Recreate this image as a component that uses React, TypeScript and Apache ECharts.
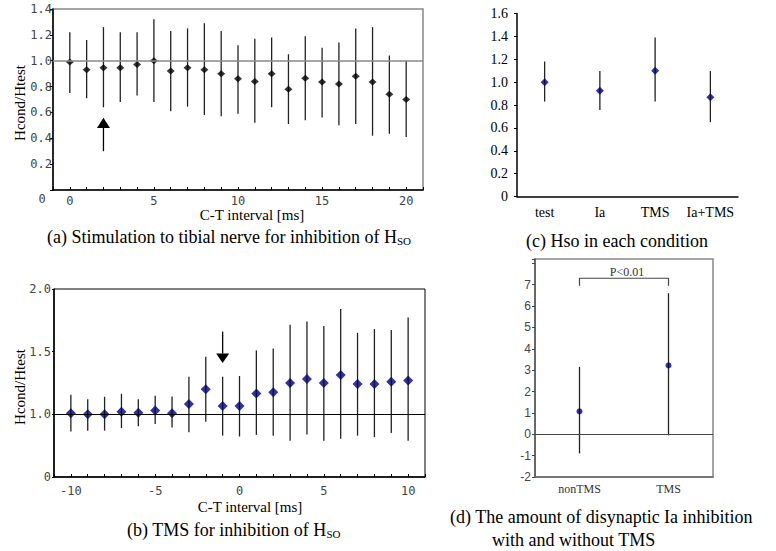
import React, { useEffect, useRef } from "react";
import * as echarts from "echarts";

// Panel (a): stimulation to tibial nerve
const intervalsA = [0, 1, 2, 3, 4, 5, 6, 7, 8, 9, 10, 11, 12, 13, 14, 15, 16, 17, 18, 19, 20];
const meanA = [0.99, 0.93, 0.945, 0.945, 0.97, 1.0, 0.92, 0.945, 0.93, 0.9, 0.86, 0.84, 0.9, 0.78, 0.865, 0.835, 0.82, 0.88, 0.835, 0.74, 0.7];
const hiA = [1.22, 1.16, 1.26, 1.22, 1.22, 1.32, 1.23, 1.25, 1.29, 1.23, 1.12, 1.17, 1.18, 1.05, 1.19, 1.1, 1.14, 1.25, 1.26, 1.04, 1.0];
const loA = [0.75, 0.71, 0.64, 0.68, 0.73, 0.68, 0.61, 0.645, 0.58, 0.57, 0.59, 0.52, 0.64, 0.51, 0.54, 0.56, 0.5, 0.51, 0.42, 0.435, 0.41];
const arrowA = [[2, 0.558, 0.48, 0.3]]; // x, tip, base, stem end

// Panel (b): TMS
const intervalsB = [-10, -9, -8, -7, -6, -5, -4, -3, -2, -1, 0, 1, 2, 3, 4, 5, 6, 7, 8, 9, 10];
const meanB = [1.008, 1.0, 1.0, 1.02, 1.013, 1.03, 1.008, 1.082, 1.2, 1.066, 1.066, 1.166, 1.177, 1.25, 1.282, 1.25, 1.314, 1.243, 1.243, 1.26, 1.27];
const hiB = [1.156, 1.12, 1.14, 1.164, 1.12, 1.148, 1.142, 1.3, 1.46, 1.3, 1.306, 1.51, 1.525, 1.715, 1.74, 1.705, 1.84, 1.65, 1.68, 1.673, 1.773];
const loB = [0.863, 0.87, 0.87, 0.89, 0.905, 0.923, 0.894, 0.857, 0.94, 0.83, 0.823, 0.836, 0.83, 0.79, 0.84, 0.79, 0.805, 0.83, 0.818, 0.852, 0.79];
const arrowB = [[-1, 1.41, 1.485, 1.66]];

// Panel (c): Hso in each condition
const condC = ["test", "Ia", "TMS", "Ia+TMS"];
const meanC = [1.0, 0.925, 1.1, 0.867];
const hiC = [1.18, 1.097, 1.39, 1.097];
const loC = [0.83, 0.757, 0.83, 0.65];

// Panel (d): disynaptic Ia inhibition
const condD = ["nonTMS", "TMS"];
const meanD = [1.07, 3.22];
const hiD = [3.15, 6.6];
const loD = [-0.9, -0.05];
const bracketD = [[0, 6.95], [0, 7.3], [1, 7.3], [1, 6.95]];

const SERIF = "'Times New Roman', 'Liberation Serif', serif";
const MONO = "'DejaVu Sans Mono', monospace";
const SANS = "'Liberation Sans', Arial, sans-serif";

const errRender = (color: string, width: number) => (params: any, api: any) => {
  const x = api.value(0);
  const a = api.coord([x, api.value(1)]);
  const b = api.coord([x, api.value(2)]);
  return {
    type: "line",
    shape: { x1: a[0], y1: a[1], x2: b[0], y2: b[1] },
    style: { stroke: color, lineWidth: width },
  };
};

const arrowRender = (params: any, api: any) => {
  const x = api.value(0);
  const tip = api.coord([x, api.value(1)]);
  const base = api.coord([x, api.value(2)]);
  const end = api.coord([x, api.value(3)]);
  return {
    type: "group",
    children: [
      { type: "line", shape: { x1: base[0], y1: base[1], x2: end[0], y2: end[1] }, style: { stroke: "#000", lineWidth: 1.3 } },
      {
        type: "polygon",
        shape: { points: [[tip[0], tip[1]], [base[0] - 6.5, base[1]], [base[0] + 6.5, base[1]]] },
        style: { fill: "#000" },
      },
    ],
  };
};

const txt = (x: number, y: number, text: string, size: number, family: string, extra: any = {}) => ({
  type: "text",
  x,
  y,
  ...(extra.rotation ? { rotation: extra.rotation } : {}),
  style: {
    text,
    fontSize: size,
    fontFamily: family,
    fill: extra.fill || "#000",
    align: extra.align || "left",
    verticalAlign: "middle",
    ...(extra.rich ? { rich: extra.rich } : {}),
  },
});

export default function App() {
  const ref = useRef<HTMLDivElement>(null);
  useEffect(() => {
    document.body.style.margin = "0";
    const chart = echarts.init(ref.current!, undefined, { renderer: "svg" });
    const monoLabel = { fontFamily: MONO, fontSize: 12, color: "#444" };
    const subRich = { s: { fontSize: 11, fontFamily: SERIF, verticalAlign: "bottom", color: "#000" } };
    const option: any = {
      animation: false,
      backgroundColor: "#fff",
      grid: [
        { left: 53, top: 9, width: 370, height: 181, show: true, borderColor: "#888", borderWidth: 1.5 },
        { left: 54, top: 289, width: 371, height: 188, show: true, borderColor: "#000", borderWidth: 1 },
        { left: 517, top: 13.5, width: 221, height: 183 },
        { left: 535, top: 259, width: 178, height: 218, show: true, borderColor: "#888", borderWidth: 1.5 },
      ],
      xAxis: [
        {
          gridIndex: 0, type: "value", min: -1, max: 21, interval: 1,
          axisLine: { onZero: false, lineStyle: { color: "#000", width: 1.5 } },
          axisTick: { inside: true, length: 3, lineStyle: { color: "#000" } },
          axisLabel: { ...monoLabel, margin: 5, formatter: (v: number) => (v >= 0 && v <= 20 && v % 5 === 0 ? String(v) : "") },
          splitLine: { show: false },
        },
        {
          gridIndex: 1, type: "value", min: -11, max: 11, interval: 1,
          axisLine: { onZero: false, lineStyle: { color: "#000", width: 1.5 } },
          axisTick: { inside: true, length: 3, lineStyle: { color: "#000" } },
          axisLabel: { ...monoLabel, margin: 8, formatter: (v: number) => (v >= -10 && v <= 10 && v % 5 === 0 ? String(v) : "") },
          splitLine: { show: false },
        },
        {
          gridIndex: 2, type: "category", data: condC, boundaryGap: true,
          axisLine: { onZero: false, lineStyle: { color: "#000", width: 1.5 } },
          axisTick: { inside: true, length: 4, alignWithLabel: true, lineStyle: { color: "#000" } },
          axisLabel: { interval: 0, fontFamily: SERIF, fontSize: 14, color: "#000", margin: 9 },
        },
        {
          gridIndex: 3, type: "category", data: condD, boundaryGap: true,
          axisLine: { onZero: false, lineStyle: { color: "#666", width: 1.5 } },
          axisTick: { inside: true, length: 3, alignWithLabel: true, lineStyle: { color: "#444" } },
          axisLabel: { interval: 0, fontFamily: SERIF, fontSize: 12, color: "#333", margin: 6 },
        },
      ],
      yAxis: [
        {
          gridIndex: 0, type: "value", min: 0, max: 1.4, interval: 0.2,
          axisLine: { show: true, onZero: false, lineStyle: { color: "#000", width: 1.5 } },
          axisTick: { show: true, length: 3, lineStyle: { color: "#000" } },
          axisLabel: { ...monoLabel, margin: 1, formatter: (v: number) => (v === 0 ? "" : v.toFixed(1)) },
          splitLine: { show: false },
        },
        {
          gridIndex: 1, type: "value", min: 0.5, max: 2.0, interval: 0.5,
          axisLine: { show: true, onZero: false, lineStyle: { color: "#000", width: 1.5 } },
          axisTick: { show: true, length: 2, lineStyle: { color: "#000" } },
          axisLabel: { ...monoLabel, margin: 3, formatter: (v: number) => (v === 0.5 ? "0" : v.toFixed(1)) },
          splitLine: { show: false },
        },
        {
          gridIndex: 2, type: "value", min: 0, max: 1.6, interval: 0.2,
          axisLine: { show: true, onZero: false, lineStyle: { color: "#000", width: 1.5 } },
          axisTick: { show: true, length: 3, lineStyle: { color: "#000" } },
          axisLabel: { fontFamily: SERIF, fontSize: 14, color: "#000", margin: 9, formatter: (v: number) => (v === 0 ? "0" : v.toFixed(1)) },
          splitLine: { show: false },
        },
        {
          gridIndex: 3, type: "value", min: -2, max: 8.2, interval: 1,
          axisLine: { show: true, onZero: false, lineStyle: { color: "#555", width: 1.5 } },
          axisTick: { show: true, length: 3, lineStyle: { color: "#444" } },
          axisLabel: { fontFamily: SANS, fontSize: 12, color: "#444", margin: 4, formatter: (v: number) => (v <= 7 && Number.isInteger(v) ? String(v) : "") },
          splitLine: { show: false },
        },
      ],
      series: [
        // (a)
        {
          type: "custom", xAxisIndex: 0, yAxisIndex: 0, renderItem: errRender("#222", 1.3),
          encode: { x: 0, y: [1, 2] }, data: intervalsA.map((x, i) => [x, loA[i], hiA[i]]), z: 2,
        },
        {
          type: "scatter", xAxisIndex: 0, yAxisIndex: 0, symbol: "diamond", symbolSize: [8, 7],
          itemStyle: { color: "#000" }, data: intervalsA.map((x, i) => [x, meanA[i]]), z: 3,
          markLine: { silent: true, symbol: "none", label: { show: false }, lineStyle: { color: "#888", width: 1.5, type: "solid" }, data: [{ yAxis: 1 }] },
        },
        { type: "custom", xAxisIndex: 0, yAxisIndex: 0, renderItem: arrowRender, encode: { x: 0, y: [1, 2, 3] }, data: arrowA, z: 3 },
        // (b)
        {
          type: "custom", xAxisIndex: 1, yAxisIndex: 1, renderItem: errRender("#222", 1.3),
          encode: { x: 0, y: [1, 2] }, data: intervalsB.map((x, i) => [x, loB[i], hiB[i]]), z: 2,
        },
        {
          type: "scatter", xAxisIndex: 1, yAxisIndex: 1, symbol: "diamond", symbolSize: [10, 10],
          itemStyle: { color: "#00007a" }, data: intervalsB.map((x, i) => [x, meanB[i]]), z: 3,
          markLine: { silent: true, symbol: "none", label: { show: false }, lineStyle: { color: "#000", width: 1.2, type: "solid" }, data: [{ yAxis: 1 }] },
        },
        { type: "custom", xAxisIndex: 1, yAxisIndex: 1, renderItem: arrowRender, encode: { x: 0, y: [1, 2, 3] }, data: arrowB, z: 3 },
        // (c)
        {
          type: "custom", xAxisIndex: 2, yAxisIndex: 2, renderItem: errRender("#222", 1.3),
          encode: { x: 0, y: [1, 2] }, data: condC.map((c, i) => [i, loC[i], hiC[i]]), z: 2,
        },
        {
          type: "scatter", xAxisIndex: 2, yAxisIndex: 2, symbol: "diamond", symbolSize: [8, 8],
          itemStyle: { color: "#00007a" }, data: condC.map((c, i) => [i, meanC[i]]), z: 3,
        },
        // (d)
        {
          type: "custom", xAxisIndex: 3, yAxisIndex: 3, renderItem: errRender("#222", 1.3),
          encode: { x: 0, y: [1, 2] }, data: condD.map((c, i) => [i, loD[i], hiD[i]]), z: 2,
        },
        {
          type: "scatter", xAxisIndex: 3, yAxisIndex: 3, symbol: "circle", symbolSize: 6,
          itemStyle: { color: "#00007a" }, data: condD.map((c, i) => [i, meanD[i]]), z: 3,
          markLine: { silent: true, symbol: "none", label: { show: false }, lineStyle: { color: "#444", width: 1.2, type: "solid" }, data: [{ yAxis: 0 }] },
        },
        {
          type: "line", xAxisIndex: 3, yAxisIndex: 3, data: bracketD, symbol: "none",
          lineStyle: { color: "#444", width: 1.2 }, z: 2,
        },
      ],
      graphic: [
        // axis names
        txt(20, 103, "Hcond/Htest", 15, SERIF, { align: "center", rotation: Math.PI / 2 }),
        txt(20, 387, "Hcond/Htest", 15, SERIF, { align: "center", rotation: Math.PI / 2 }),
        txt(252, 215, "C-T interval [ms]", 15, SERIF, { align: "center" }),
        txt(250, 507, "C-T interval [ms]", 15, SERIF, { align: "center" }),
        // stray zero label in (a)
        txt(42, 199, "0", 12, MONO, { align: "center", fill: "#444" }),
        // significance
        txt(627, 272, "P<0.01", 12, SERIF, { align: "center", fill: "#333" }),
        // captions
        txt(47, 237, "(a) Stimulation to tibial nerve for inhibition of H{s|SO}", 18, SERIF, { rich: subRich }),
        txt(127, 530, "(b) TMS for inhibition of H{s|SO}", 18, SERIF, { rich: subRich }),
        txt(526, 241, "(c) Hso in each condition", 18, SERIF),
        txt(450, 517, "(d) The amount of disynaptic Ia inhibition", 18, SERIF),
        txt(492, 540, "with and without TMS", 18, SERIF),
      ],
    };
    chart.setOption(option);
    return () => chart.dispose();
  }, []);
  return <div ref={ref} style={{ position: "absolute", left: 0, top: 0, width: 776, height: 551 }} />;
}
